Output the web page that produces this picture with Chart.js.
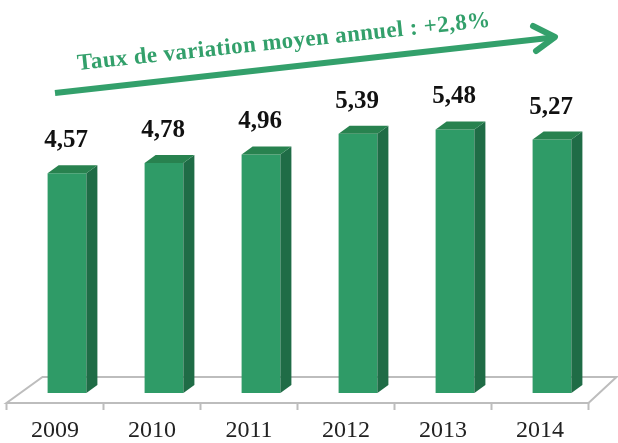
<!DOCTYPE html>
<html>
<head>
<meta charset="utf-8">
<script src="https://cdn.jsdelivr.net/npm/chart.js@4"></script>
<style>
  body { margin: 0; background: #fff; font-family: "Liberation Serif", "Times New Roman", Times, serif; }
  #wrap { width: 618px; height: 443px; }
</style>
</head>
<body>
<div id="wrap"><canvas id="myChart" width="618" height="443"></canvas></div>
<script>
var annees = ['2009', '2010', '2011', '2012', '2013', '2014'];
var valeurs = [4.57, 4.78, 4.96, 5.39, 5.48, 5.27];
var titre = 'Taux de variation moyen annuel : +2,8%';

var serif = '"Liberation Serif", "Times New Roman", Times, serif';
var vert = '#2f9b67';
var vertCote = '#1f6c46';
var vertHaut = '#28824f';
var prof = { dx: 11, dy: 8 };

// effet 3D + sol + etiquettes
var decor = {
    id: 'decor',
    beforeDatasetsDraw: function (chart) {
        var ctx = chart.ctx, a = chart.chartArea;
        var yf = a.bottom + 10, yb = a.bottom - 16;
        ctx.save();
        ctx.strokeStyle = '#bdbdbd';
        ctx.lineWidth = 2;
        ctx.beginPath();
        ctx.moveTo(a.left - 12, yf);
        ctx.lineTo(a.right - 12, yf);
        ctx.lineTo(a.right + 16, yb);
        ctx.lineTo(a.left + 24, yb);
        ctx.closePath();
        ctx.stroke();
        // petites graduations
        var pas = (a.right - a.left) / annees.length;
        ctx.beginPath();
        for (var i = 0; i <= annees.length; i++) {
            var tx = a.left - 12 + i * pas;
            ctx.moveTo(tx, yf);
            ctx.lineTo(tx, yf + 7);
        }
        ctx.stroke();
        ctx.restore();
    },
    afterDatasetsDraw: function (chart) {
        var ctx = chart.ctx, a = chart.chartArea;
        var meta = chart.getDatasetMeta(0);
        ctx.save();
        meta.data.forEach(function (bar, i) {
            var l = bar.x - bar.width / 2, r = bar.x + bar.width / 2;
            // cote
            ctx.fillStyle = vertCote;
            ctx.beginPath();
            ctx.moveTo(r, bar.y);
            ctx.lineTo(r + prof.dx, bar.y - prof.dy);
            ctx.lineTo(r + prof.dx, bar.base - prof.dy);
            ctx.lineTo(r, bar.base);
            ctx.closePath();
            ctx.fill();
            // dessus
            ctx.fillStyle = vertHaut;
            ctx.beginPath();
            ctx.moveTo(l, bar.y);
            ctx.lineTo(l + prof.dx, bar.y - prof.dy);
            ctx.lineTo(r + prof.dx, bar.y - prof.dy);
            ctx.lineTo(r, bar.y);
            ctx.closePath();
            ctx.fill();
            // valeur
            ctx.fillStyle = '#111';
            ctx.font = 'bold 25px ' + serif;
            ctx.textAlign = 'center';
            ctx.textBaseline = 'alphabetic';
            ctx.fillText(valeurs[i].toLocaleString('fr-FR'), bar.x - 1, bar.y - 26);
            // annee
            ctx.fillStyle = '#222';
            ctx.font = '24px ' + serif;
            ctx.textBaseline = 'middle';
            ctx.fillText(annees[i], chart.scales.x.getPixelForValue(i) - 12, a.bottom + 38);
        });

        // fleche + titre
        ctx.strokeStyle = '#33a06b';
        ctx.lineWidth = 6;
        ctx.lineCap = 'butt';
        ctx.beginPath();
        ctx.moveTo(55, 93);
        ctx.lineTo(553, 37.5);
        ctx.stroke();
        ctx.lineCap = 'round';
        ctx.lineJoin = 'round';
        ctx.beginPath();
        ctx.moveTo(533, 26);
        ctx.lineTo(555, 37);
        ctx.lineTo(536, 51);
        ctx.stroke();

        ctx.translate(78, 70);
        ctx.rotate(-6 * Math.PI / 180);
        ctx.fillStyle = '#33a06b';
        ctx.font = 'bold 23px ' + serif;
        ctx.letterSpacing = '0.4px';
        ctx.textAlign = 'left';
        ctx.textBaseline = 'alphabetic';
        ctx.fillText(titre, 0, 0);
        ctx.restore();
    }
};

var myChart = document.getElementById('myChart').getContext('2d');
var chart = new Chart(myChart, {
    type: 'bar',
    data: {
        labels: annees,
        datasets: [{
            data: valeurs,
            backgroundColor: vert,
            barPercentage: 0.8,
            categoryPercentage: 0.5
        }]
    },
    options: {
        responsive: false,
        animation: false,
        layout: { padding: { left: 18.5, right: 17.5, top: 104.4, bottom: 50 } },
        plugins: { legend: { display: false }, tooltip: { enabled: false } },
        scales: {
            x: { display: false },
            y: { display: false, min: 0, max: 6 }
        }
    },
    plugins: [decor]
});
</script>
</body>
</html>
